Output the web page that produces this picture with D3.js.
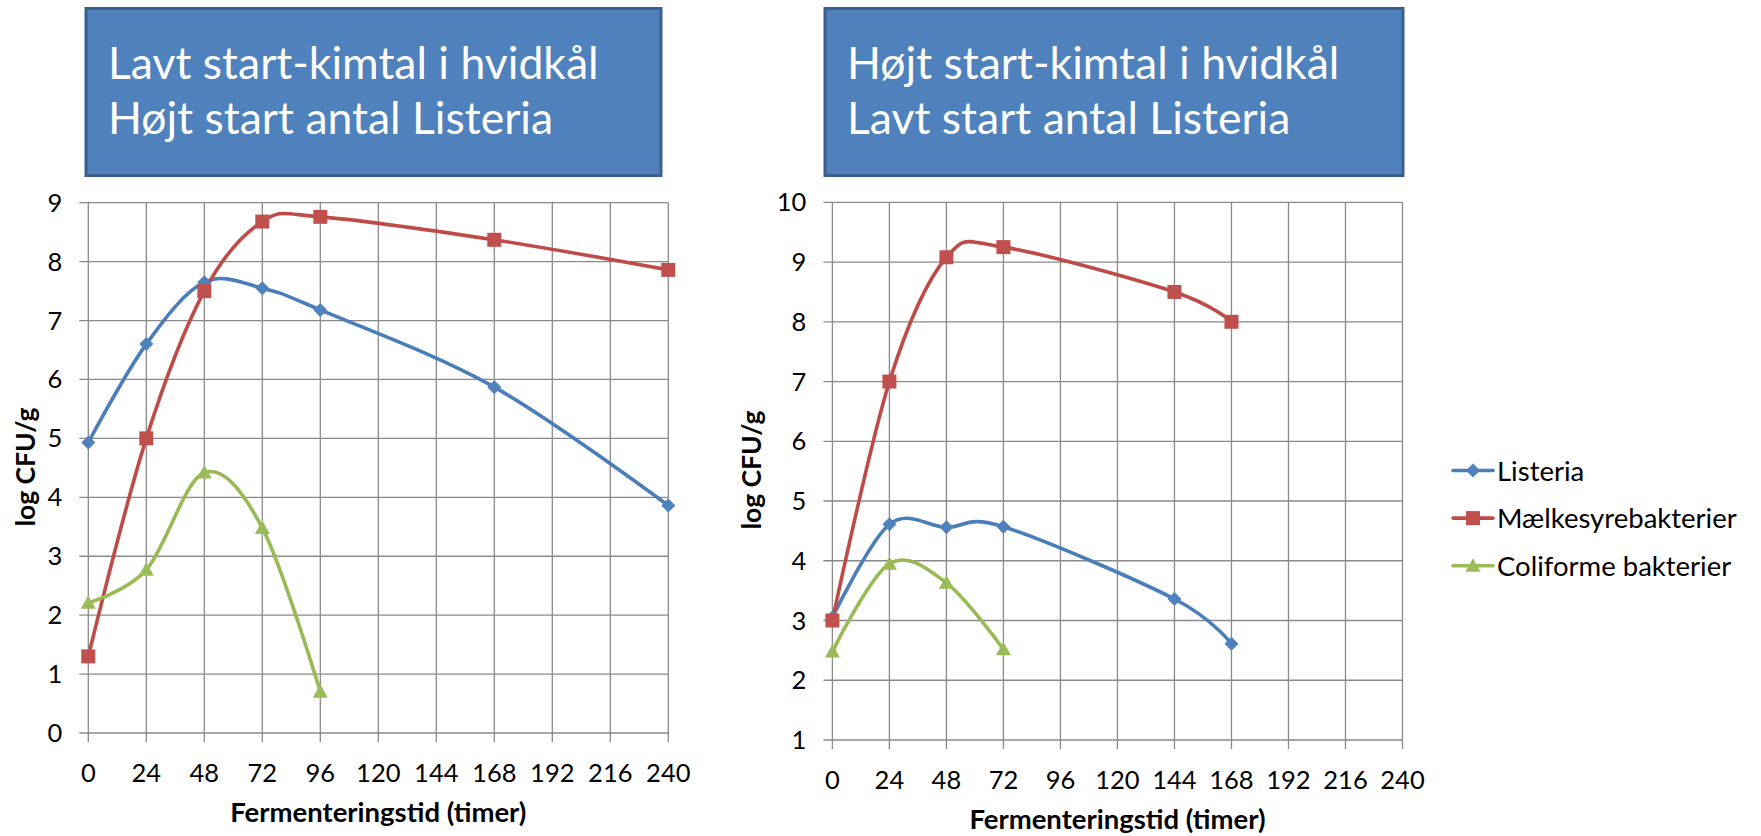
<!DOCTYPE html>
<html>
<head>
<meta charset="utf-8">
<script src="https://cdn.jsdelivr.net/npm/d3@7"></script>
<style>
  html, body { margin: 0; padding: 0; background: #fff; }
  svg { display: block; }
  text { font-family: Lato, "Open Sans", sans-serif; }
</style>
</head>
<body>
<svg id="chart" width="1761" height="836"></svg>
<script>
// Fermentation time (hours) and log CFU/g per group
const hoursA = [0, 24, 48, 72, 96, 168, 240];
const listeriaA = [4.93, 6.6, 7.65, 7.55, 7.18, 5.87, 3.86];
const maelkA = [1.3, 5.0, 7.5, 8.68, 8.76, 8.37, 7.86];
const hoursColiA = [0, 24, 48, 72, 96];
const coliA = [2.21, 2.77, 4.42, 3.48, 0.7];

const hoursB = [0, 24, 48, 72, 144, 168];
const listeriaB = [3.05, 4.61, 4.56, 4.57, 3.36, 2.61];
const maelkB = [3.0, 7.0, 9.08, 9.25, 8.5, 8.0];
const hoursColiB = [0, 24, 48, 72];
const coliB = [2.48, 3.95, 3.63, 2.52];

const xTicks = [0, 24, 48, 72, 96, 120, 144, 168, 192, 216, 240];
const yTicksA = [0, 1, 2, 3, 4, 5, 6, 7, 8, 9];
const yTicksB = [1, 2, 3, 4, 5, 6, 7, 8, 9, 10];

const seriesNames = ["Listeria", "Mælkesyrebakterier", "Coliforme bakterier"];
const titleA = ["Lavt start-kimtal i hvidkål", "Højt start antal Listeria"];
const titleB = ["Højt start-kimtal i hvidkål", "Lavt start antal Listeria"];
const xTitle = "Fermenteringstid (timer)";
const yTitle = "log CFU/g";

const styles = [
  { line: "#4A7EBB", fill: "#4F81BD", shape: "diamond" },
  { line: "#BE4B48", fill: "#C0504D", shape: "square" },
  { line: "#98B954", fill: "#9BBB59", shape: "triangle" }
];

const svg = d3.select("#chart");

function marker(sel, shape, fill) {
  if (shape === "diamond") {
    sel.append("path").attr("d", "M0,-7 L7,0 L0,7 L-7,0 Z").attr("fill", fill);
  } else if (shape === "square") {
    sel.append("rect").attr("x", -7).attr("y", -7).attr("width", 14).attr("height", 14).attr("fill", fill);
  } else {
    sel.append("path").attr("d", "M0,-7.5 L7.5,6 L-7.5,6 Z").attr("fill", fill);
  }
}

function panel(opt) {
  const g = svg.append("g");
  const x = d3.scaleLinear().domain([0, 240]).range([opt.x0, opt.x1]);
  const y = d3.scaleLinear().domain(opt.yDomain).range([opt.yBottom, opt.yTop]);

  // title box
  const tb = g.append("g");
  tb.append("rect")
    .attr("x", opt.boxX).attr("y", 8.5)
    .attr("width", opt.boxW).attr("height", 167)
    .attr("fill", "#4F81BD").attr("stroke", "#3A5F8C").attr("stroke-width", 3);
  opt.title.forEach((t, i) => {
    tb.append("text")
      .attr("x", opt.boxX + 22).attr("y", 79 + i * 55)
      .attr("fill", "#fff").attr("font-size", 44.5)
      .text(t);
  });

  // grid
  const grid = g.append("g").attr("stroke", "#8a8a8a").attr("stroke-width", 1.3);
  xTicks.forEach(v => {
    grid.append("line")
      .attr("x1", x(v)).attr("x2", x(v))
      .attr("y1", y(opt.yDomain[1])).attr("y2", y(opt.yDomain[0]) + 9);
  });
  opt.yTicks.forEach(v => {
    grid.append("line")
      .attr("x1", x(0) - 9).attr("x2", x(240))
      .attr("y1", y(v)).attr("y2", y(v));
  });

  // tick labels
  g.append("g").selectAll("text").data(opt.yTicks).join("text")
    .attr("x", x(0) - 26).attr("y", d => y(d) + 9)
    .attr("text-anchor", "end").attr("font-size", 25.5).attr("fill", "#000")
    .text(d => d);
  g.append("g").selectAll("text").data(xTicks).join("text")
    .attr("x", d => x(d)).attr("y", y(opt.yDomain[0]) + 49)
    .attr("text-anchor", "middle").attr("font-size", 25.5).attr("fill", "#000")
    .text(d => d);

  // axis titles
  g.append("text")
    .attr("x", (opt.x0 + opt.x1) / 2).attr("y", y(opt.yDomain[0]) + 89)
    .attr("text-anchor", "middle").attr("font-size", 27.5).attr("font-weight", "bold")
    .text(xTitle);
  g.append("text")
    .attr("transform", `translate(${opt.yTitleX},${opt.yTitleY}) rotate(-90)`)
    .attr("text-anchor", "middle").attr("font-size", 26.5).attr("font-weight", "bold")
    .text(yTitle);

  // series
  const line = d3.line().x(d => x(d[0])).y(d => y(d[1])).curve(d3.curveCatmullRom.alpha(0));
  opt.series.forEach((s, i) => {
    const pts = s.hours.map((h, j) => [h, s.values[j]]);
    g.append("path").datum(pts)
      .attr("d", line).attr("fill", "none")
      .attr("stroke", styles[i].line).attr("stroke-width", 3.6)
      .attr("stroke-linejoin", "round").attr("stroke-linecap", "round");
  });
  opt.series.forEach((s, i) => {
    s.hours.forEach((h, j) => {
      const m = g.append("g").attr("transform", `translate(${x(h)},${y(s.values[j])})`);
      marker(m, styles[i].shape, styles[i].fill);
    });
  });
}

panel({
  x0: 88.3, x1: 668.3, yTop: 202.7, yBottom: 733, yDomain: [0, 9], yTicks: yTicksA,
  boxX: 86, boxW: 575, title: titleA, yTitleX: 35, yTitleY: 467,
  series: [
    { hours: hoursA, values: listeriaA },
    { hours: hoursA, values: maelkA },
    { hours: hoursColiA, values: coliA }
  ]
});

panel({
  x0: 832.4, x1: 1402.5, yTop: 202.3, yBottom: 740, yDomain: [1, 10], yTicks: yTicksB,
  boxX: 825, boxW: 578, title: titleB, yTitleX: 761, yTitleY: 470,
  series: [
    { hours: hoursB, values: listeriaB },
    { hours: hoursB, values: maelkB },
    { hours: hoursColiB, values: coliB }
  ]
});

// legend
const legend = svg.append("g");
seriesNames.forEach((name, i) => {
  const ly = 470.5 + i * 47.6;
  legend.append("line")
    .attr("x1", 1453).attr("x2", 1493).attr("y1", ly).attr("y2", ly)
    .attr("stroke", styles[i].line).attr("stroke-width", 3.6).attr("stroke-linecap", "round");
  const m = legend.append("g").attr("transform", `translate(1473,${ly})`);
  marker(m, styles[i].shape, styles[i].fill);
  legend.append("text")
    .attr("x", 1497).attr("y", ly + 10)
    .attr("font-size", 27.5).attr("fill", "#000")
    .text(name);
});
</script>
</body>
</html>
